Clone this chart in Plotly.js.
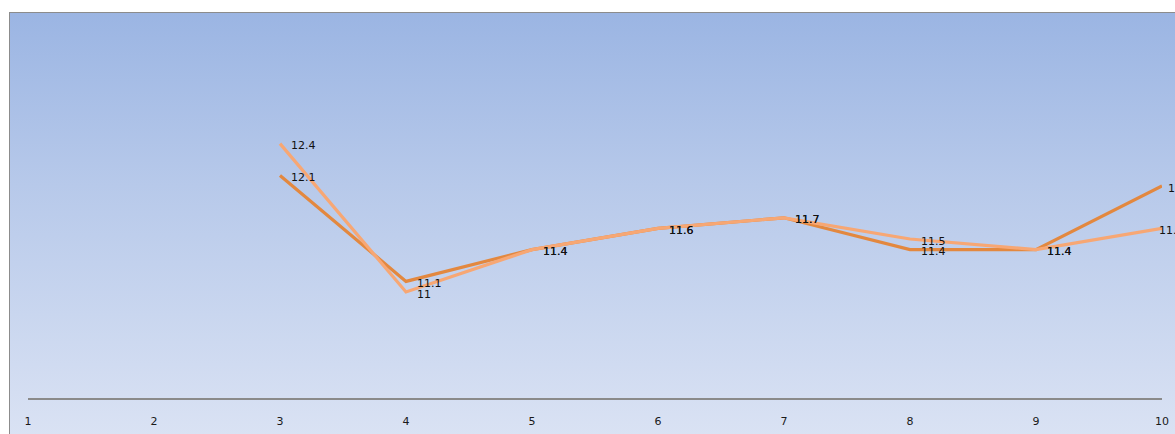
<!DOCTYPE html>
<html>
<head>
<meta charset="utf-8">
<script src="https://cdn.plot.ly/plotly-3.0.1.min.js"></script>
<style>
  html, body { margin: 0; padding: 0; background: #ffffff; overflow: hidden; }
  #wrap { position: relative; width: 1175px; height: 434px; }
  /* gradient chart area with grey frame */
  #frame {
    position: absolute; left: 9px; top: 12px; width: 1170px; height: 430px;
    border-top: 1.5px solid #8c8c8c; border-left: 1.5px solid #8c8c8c;
    background: linear-gradient(to bottom, #9bb5e3 0%, #b7c9ea 40%, #dbe3f4 100%);
  }
  #chart { position: absolute; left: 0; top: 0; width: 1175px; height: 434px; }
</style>
</head>
<body>
<div id="wrap">
  <div id="frame"></div>
  <div id="chart"></div>
</div>
<script>
// categories on the x axis
const categories = [1, 2, 3, 4, 5, 6, 7, 8, 9, 10];
// two series; null where no value is recorded
const seriesA = [null, null, 12.1, 11.1, 11.4, 11.6, 11.7, 11.4, 11.4, 12.0];
const seriesB = [null, null, 12.4, 11.0, 11.4, 11.6, 11.7, 11.5, 11.4, 11.6];
const tickLabels = ['1', '2', '3', '4', '5', '6', '7', '8', '9', '10'];

const labelFont = { family: 'DejaVu Sans, Verdana, sans-serif', size: 11, color: '#111111' };

// value labels placed just right of each point; the last point's label is
// pulled in toward the plot edge
function valueLabels(vals, edgeShift) {
  const out = [];
  const last = vals.length - 1;
  vals.forEach((v, i) => {
    if (v === null) return;
    out.push({
      x: categories[i], y: v, xref: 'x', yref: 'y',
      text: String(v), showarrow: false,
      xanchor: 'left', yanchor: 'middle',
      xshift: i === last ? edgeShift : 9, yshift: -2,
      font: labelFont
    });
  });
  return out;
}

const traces = [
  {
    x: categories, y: seriesA, type: 'scatter', mode: 'lines',
    line: { color: '#e3883f', width: 3.2 },
    connectgaps: false, hoverinfo: 'x+y'
  },
  {
    x: categories, y: seriesB, type: 'scatter', mode: 'lines',
    line: { color: '#f7a774', width: 3.2 },
    connectgaps: false, hoverinfo: 'x+y'
  }
];

const layout = {
  width: 1175, height: 434,
  margin: { l: 28, r: 13, t: 12, b: 36, pad: 0 },
  paper_bgcolor: 'rgba(0,0,0,0)',
  plot_bgcolor: 'rgba(0,0,0,0)',
  showlegend: false,
  annotations: valueLabels(seriesA, 4).concat(valueLabels(seriesB, -5)),
  xaxis: {
    range: [1, 10], tickmode: 'array', tickvals: categories, ticktext: tickLabels,
    showgrid: false, zeroline: false,
    showline: true, linecolor: '#8a8a8a', linewidth: 1.5,
    ticks: 'outside', ticklen: 12, tickcolor: 'rgba(0,0,0,0)',
    tickfont: { family: 'DejaVu Sans, Verdana, sans-serif', size: 11, color: '#1a1a1a' }
  },
  yaxis: {
    range: [10, 13.642], showgrid: false, zeroline: false,
    showline: false, showticklabels: false, ticks: ''
  }
};

Plotly.newPlot('chart', traces, layout, { displayModeBar: false, staticPlot: true });
</script>
</body>
</html>
